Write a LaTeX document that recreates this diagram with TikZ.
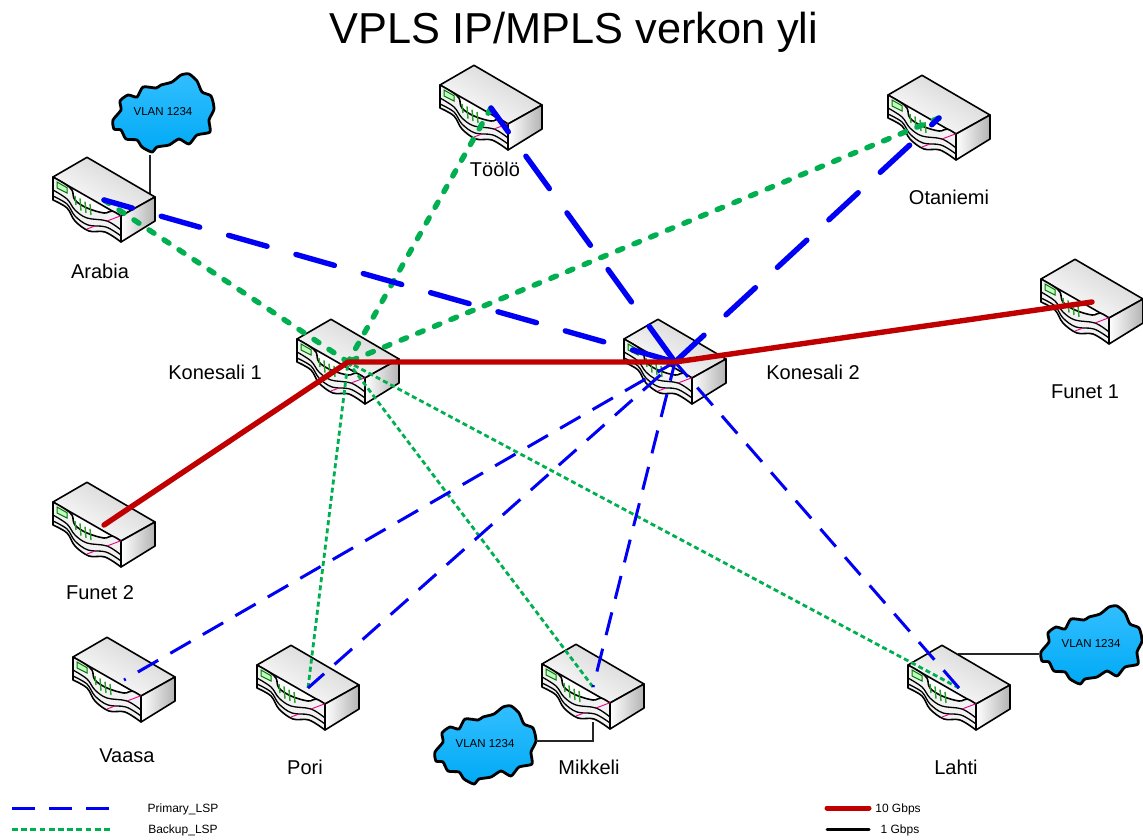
\documentclass[tikz,border=0pt]{standalone}
\usepackage{fontspec}
\setmainfont{Liberation Sans}

\definecolor{primaryblue}{RGB}{0,0,245}
\definecolor{backupgreen}{RGB}{0,176,80}
\definecolor{linkred}{RGB}{192,0,0}
\definecolor{cloudtop}{RGB}{50,190,255}
\definecolor{cloudbottom}{RGB}{0,170,245}
\definecolor{pingreen}{RGB}{40,160,40}

\tikzset{
    router/.pic={
        % Top and side:
        \draw[line width=1.6, line join=round, top color=gray!35, bottom color=white, shading angle=-30]
            (-51,-23) -- (-17,-42.7) -- (51,-3) -- (17,16) -- cycle;
        \draw[line width=1.6, line join=round, left color=white, right color=gray!60]
            (17,16) -- (51,-3) -- (51,21) -- (17,42) -- cycle;
        % Front:
        \draw[line width=1.6, line join=round, fill=gray!10]
            (-51,-23) -- (-51,0) -- plot[smooth, tension=0.6] coordinates {(-51,0) (-37,8) (-29,21) (-15,31) (1,32) (17,42)}
            -- (17,16) -- plot[smooth, tension=0.6] coordinates {(17,16) (8,11) (0,13) (-17,8) (-29,0) (-32,-10) (-39,-16) (-51,-23)} -- cycle;
        % Slots:
        \draw[line width=1.3] plot[smooth, tension=0.6] coordinates {(-51,-10) (-37,-1) (-29,10) (-17,18) (3,21) (17,30)};
        \draw[line width=1.3] plot[smooth, tension=0.6] coordinates {(-51,-4) (-37,4) (-29,16) (-16,25) (2,27) (17,36)};
        % Magenta marks:
        \draw[line width=0.9, color=magenta] (3,21) -- (17,15.7) (-17,29) -- (-9,26);
        % Green lamp and pins:
        \draw[line width=1, color=green!45!black, fill=green!25] (-47,-18) -- (-37,-12.3) -- (-37,-7) -- (-47,-12) -- cycle;
        \foreach \x/\y/\z in {-29/-4/5, -24/-1.7/10.7, -19/1.7/13, -14/4/15}
            \draw[line width=1.4, color=pingreen] (\x,\y) -- (\x+1,\z);
    },
    vlancloud/.pic={
        \draw[line width=2.8, line join=round, top color=cloudtop, bottom color=cloudbottom]
            plot[smooth cycle, tension=0.4] coordinates {(-50,8) (-42,-2) (-43,-11) (-35,-17) (-26,-15) (-20,-25) (-7,-24)
            (-2,-27) (9,-30) (18,-37) (26,-38) (34,-31) (39,-20) (48,-16) (51,-3) (46,8) (47,20) (34,23) (26,32) (16,27)
            (6,33) (-6,35) (-11,40) (-21,35) (-26,28) (-37,27) (-42,18) (-49,17)};
    },
    cloudbox/.style={minimum width=102, minimum height=80, inner sep=0, font=\fontsize{11.5}{14}\selectfont},
    sitelabel/.style={font=\fontsize{20}{24}\selectfont},
    legendlabel/.style={font=\fontsize{12}{14}\selectfont},
    primarythick/.style={line width=5.4, color=primaryblue, line cap=round, dash pattern=on 40 off 30},
    primarythin/.style={line width=3, color=primaryblue, dash pattern=on 23.5 off 14},
    backupthick/.style={line width=5.4, color=backupgreen, line cap=round, dash pattern=on 6 off 12},
    backupthin/.style={line width=2.8, color=backupgreen, dash pattern=on 5 off 3.2},
    linkthick/.style={line width=5.4, color=linkred, line cap=round},
    vlanlink/.style={line width=1.2, color=black!85}
}

\begin{document}
\begin{tikzpicture}[x=1pt, y=-1pt]
    \useasboundingbox (0,0) rectangle (1143,839);

    % Title:
    \node[font=\fontsize{43.3}{50}\selectfont] (title) at (574,32) {VPLS IP/MPLS verkon yli};

    % Clouds:
    \foreach \name/\x/\y in {cloudArabia/163/112, cloudLahti/1091/644, cloudMikkeli/485/744} {
        \pic at (\x,\y) {vlancloud};
        \node[cloudbox] (\name) at (\x,\y) {VLAN 1234};
    }

    % Cloud links:
    \coordinate (tapArabia) at (150,198);
    \coordinate (tapLahti) at (958,654);
    \coordinate (tapMikkeli) at (593,722);
    \draw[vlanlink, shorten <=3] (cloudArabia.south -| tapArabia) -- (tapArabia);
    \draw[vlanlink, shorten <=1] (cloudLahti.west |- tapLahti) -- (tapLahti);
    \draw[vlanlink] (cloudMikkeli.east |- 0,741) -- (tapMikkeli |- 0,741) -- (tapMikkeli);

    % Routers:
    \foreach \name/\x/\y in {arabia/104/200, toolo/491/108, otaniemi/939/118, funetA/1092/302, funetB/104/525,
        konesaliA/348/362, konesaliB/675/362, vaasa/124/680, pori/308/688, mikkeli/593/687, lahti/959/688} {
        \pic at (\x,\y) {router};
        \coordinate (\name) at (\x,\y);
    }

    % Labels:
    \foreach \name/\x/\y/\txt in {arabia/100/271/Arabia, toolo/495/169/Töölö, otaniemi/949/197/Otaniemi,
        funetA/1085/392/Funet 1, funetB/100/593/Funet 2, konesaliA/215/372/Konesali 1, konesaliB/813/372/Konesali 2,
        vaasa/127/756/Vaasa, pori/305/767/Pori, mikkeli/589/767/Mikkeli, lahti/956/767/Lahti}
        \node[sitelabel] (\name-label) at (\x,\y) {\txt};

    % Backup paths:
    \foreach \site in {arabia, toolo, otaniemi}
        \draw[backupthick] (\site) -- (konesaliA);
    \foreach \site in {pori, mikkeli, lahti}
        \draw[backupthin] (\site) -- (konesaliA);

    % Primary paths:
    \foreach \site/\phase in {arabia/10.5, toolo/10.5, otaniemi/30}
        \draw[primarythick, dash phase=\phase] (\site) -- (konesaliB);
    \foreach \site/\phase in {vaasa/21.5, pori/2, mikkeli/21.5, lahti/0}
        \draw[primarythin, dash phase=\phase] (\site) -- (konesaliB);

    % Fibre links:
    \draw[linkthick] (funetB) -- (konesaliA) -- (konesaliB) -- (funetA);

    % Legend:
    \coordinate (legendA) at (12,808);
    \coordinate (legendB) at (109,808);
    \coordinate (legendC) at (12,829);
    \coordinate (legendD) at (112,829);
    \coordinate (legendE) at (827,808);
    \coordinate (legendF) at (869,808);
    \coordinate (legendG) at (827,829);
    \coordinate (legendH) at (869,829);
    \draw[line width=3, color=primaryblue, dash pattern=on 23 off 14] (legendA) -- (legendB);
    \draw[line width=3, color=backupgreen, dash pattern=on 5.7 off 3.5] (legendC) -- (legendD);
    \draw[line width=5, color=linkred, line cap=round] (legendE) -- (legendF);
    \draw[line width=3, color=black, line cap=round] (legendG) -- (legendH);
    \node[legendlabel] (legendPrimary) at (183,809) {Primary\_LSP};
    \node[legendlabel] (legendBackup) at (183,830) {Backup\_LSP};
    \node[legendlabel] (legendTen) at (898,809) {10 Gbps};
    \node[legendlabel] (legendOne) at (900,830) {1 Gbps};
\end{tikzpicture}
\end{document}
